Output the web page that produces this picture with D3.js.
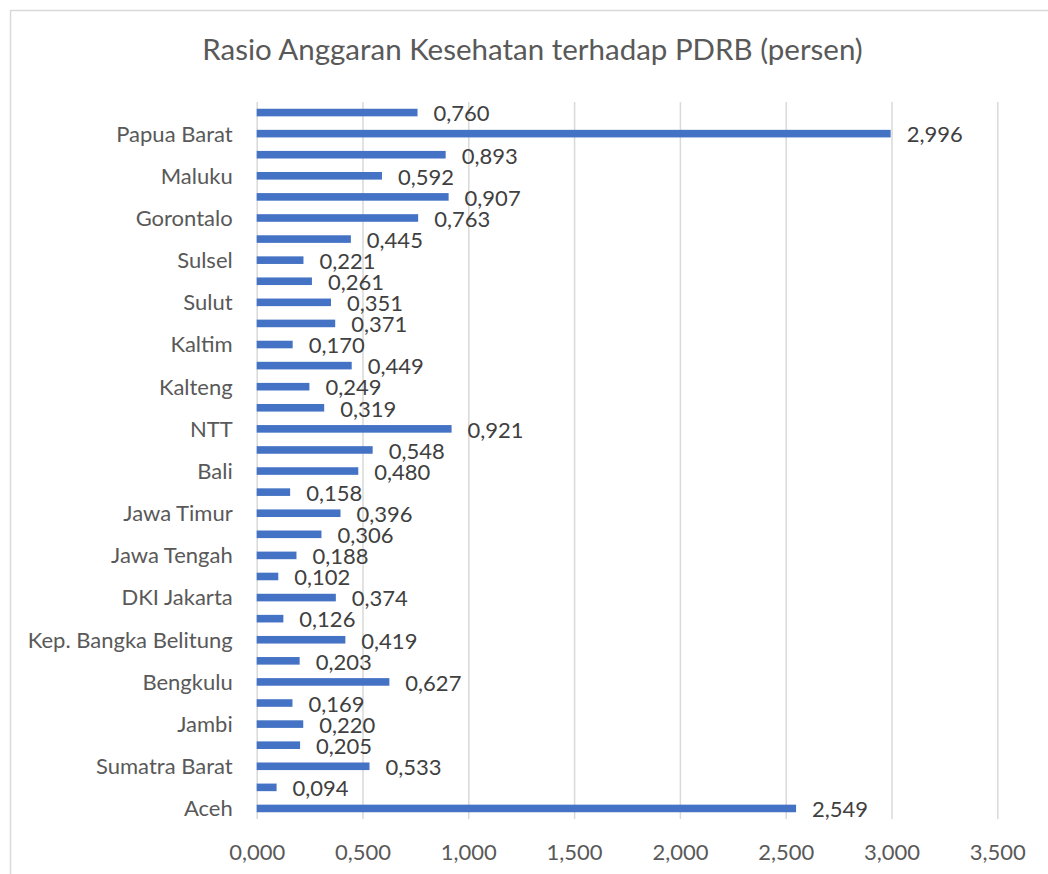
<!DOCTYPE html>
<html>
<head>
<meta charset="utf-8">
<script src="https://cdn.jsdelivr.net/npm/d3@7"></script>
<style>
  body { margin: 0; background: #fff; }
  svg text { font-family: Lato, "Open Sans", sans-serif; }
</style>
</head>
<body>
<div data-js-graph></div>
<script>
// provinces, bottom (first) to top (last)
const provinces = [
  'Aceh', 'Sumatra Utara', 'Sumatra Barat ', 'Riau', 'Jambi', 'Sumatra Selatan',
  'Bengkulu', 'Lampung', 'Kep. Bangka Belitung', 'Kep. Riau', 'DKI Jakarta',
  'Jawa Barat', 'Jawa Tengah', 'DI Yogyakarta', 'Jawa Timur', 'Banten', 'Bali',
  'NTB', 'NTT', 'Kalbar', 'Kalteng', 'Kalsel', 'Kaltim', 'Kaltara', 'Sulut',
  'Sulteng', 'Sulsel', 'Sultra', 'Gorontalo', 'Sulbar', 'Maluku', 'Malut',
  'Papua Barat', 'Papua',
];
const rasio = [
  2.549, 0.094, 0.533, 0.205, 0.220, 0.169,
  0.627, 0.203, 0.419, 0.126, 0.374,
  0.102, 0.188, 0.306, 0.396, 0.158, 0.480,
  0.548, 0.921, 0.319, 0.249, 0.449, 0.170, 0.371, 0.351,
  0.261, 0.221, 0.445, 0.763, 0.907, 0.592, 0.893,
  2.996, 0.760,
];
const xTicks = [0, 0.5, 1, 1.5, 2, 2.5, 3, 3.5];
const title = 'Rasio Anggaran Kesehatan terhadap PDRB (persen)';

const SETTING = {
  width: 1048,
  height: 874,
  left: 256.7,
  right: 997.3,
  top: 102,
  bottom: 819,
};

const idLocale = d3.formatLocale({ decimal: ',', thousands: '.', grouping: [3], currency: ['Rp', ''] });
const fmt = idLocale.format('.3f');

const data = provinces.map((p, i) => ({ name: p, value: rasio[i] }));

const svg = d3.select('[data-js-graph]').append('svg')
  .attr('width', SETTING.width)
  .attr('height', SETTING.height);

// chart border
svg.append('rect')
  .attr('x', 10.5).attr('y', 10.5)
  .attr('width', 1045).attr('height', 875)
  .attr('fill', '#fff')
  .attr('stroke', '#d9d9d9')
  .attr('stroke-width', 1.5);

svg.append('text')
  .attr('x', 532.5).attr('y', 60)
  .attr('text-anchor', 'middle')
  .attr('fill', '#595959')
  .style('font-size', '29.5px')
  .text(title);

const x = d3.scaleLinear().domain([0, 3.5]).range([SETTING.left, SETTING.right]);
const y = d3.scaleBand()
  .domain(provinces.slice().reverse())
  .range([SETTING.top, SETTING.bottom])
  .paddingInner(0.64)
  .paddingOuter(0.32);

// gridlines + x tick labels
const xAxis = svg.append('g')
  .attr('transform', `translate(0,${SETTING.bottom})`)
  .call(d3.axisBottom(x).tickValues(xTicks).tickFormat(fmt)
    .tickSize(-(SETTING.bottom - SETTING.top)).tickPadding(22));
xAxis.select('.domain').remove();
xAxis.selectAll('line').attr('stroke', '#d9d9d9').attr('stroke-width', 1.5);
xAxis.selectAll('text')
  .attr('fill', '#595959')
  .style('font-size', '22px')
  .attr('dy', '0.85em');

// category labels, every other one like Excel does
const yAxis = svg.append('g')
  .attr('transform', `translate(${SETTING.left},0)`)
  .call(d3.axisLeft(y).tickValues(provinces.filter((d, i) => i % 2 === 0))
    .tickSize(0).tickPadding(24));
yAxis.select('.domain').remove();
yAxis.selectAll('text')
  .attr('fill', '#595959')
  .style('font-size', '22px')
  .attr('dy', '0.36em');

// bars
svg.append('g')
  .selectAll('rect')
  .data(data)
  .join('rect')
  .attr('x', x(0))
  .attr('y', (d) => y(d.name))
  .attr('width', (d) => x(d.value) - x(0))
  .attr('height', y.bandwidth())
  .attr('fill', '#4472c4');

// value labels
svg.append('g')
  .selectAll('text')
  .data(data)
  .join('text')
  .attr('x', (d) => x(d.value) + 16)
  .attr('y', (d) => y(d.name) + y.bandwidth() / 2)
  .attr('dy', '0.4em')
  .attr('fill', '#404040')
  .style('font-size', '22px')
  .text((d) => fmt(d.value));
</script>
</body>
</html>
